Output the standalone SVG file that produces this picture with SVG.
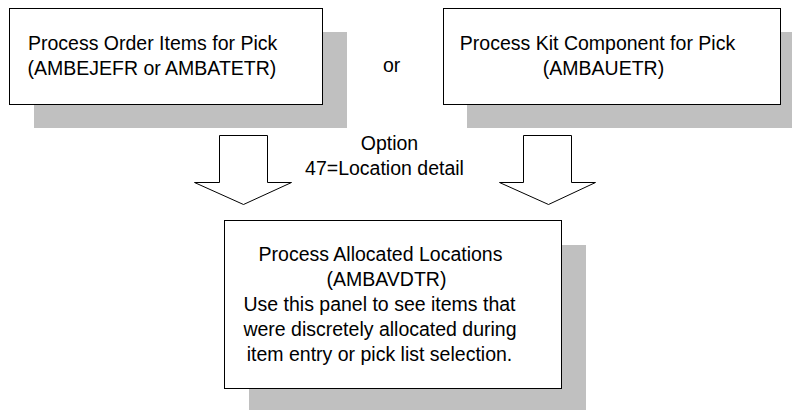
<svg xmlns="http://www.w3.org/2000/svg" width="792" height="410" viewBox="0 0 792 410">
<style>
.shadow{fill:#c0c0c0;stroke:none}
.box{fill:#ffffff;stroke:#000000;stroke-width:1}
.arrow{fill:#ffffff;stroke:#000000;stroke-width:1}
text{font-family:"Liberation Sans",Arial,sans-serif;font-size:19.5px;fill:#000000}
.c{text-anchor:middle}
</style>
<rect width="792" height="410" fill="#ffffff"/>
<g id="node-order-items">
<rect class="shadow" x="34" y="32" width="313" height="96"/>
<rect class="box" x="9.5" y="8.5" width="313" height="96"/>
<text x="28" y="50">Process Order Items for Pick</text>
<text x="27.5" y="74.5">(AMBEJEFR or AMBATETR)</text>
</g>
<g id="node-kit-component">
<rect class="shadow" x="467" y="32" width="337" height="96"/>
<rect class="box" x="443.5" y="8.5" width="337" height="96"/>
<text class="c" x="597.5" y="50">Process Kit Component for Pick</text>
<text class="c" x="603.5" y="74.5">(AMBAUETR)</text>
</g>
<g id="label-or">
<text x="383" y="72">or</text>
</g>
<g id="connectors">
<polygon class="arrow" points="219.5,135.5 267.5,135.5 267.5,182.5 291.5,182.5 243.5,204.5 194.5,182.5 219.5,182.5"/>
<polygon class="arrow" points="523.5,135.5 571.5,135.5 571.5,182.5 595.5,182.5 548.5,204.5 499.5,182.5 523.5,182.5"/>
<text class="c" x="389.5" y="150">Option</text>
<text class="c" x="384.5" y="175">47=Location detail</text>
</g>
<g id="node-allocated-locations">
<rect class="shadow" x="249" y="245" width="337" height="168"/>
<rect class="box" x="224.5" y="220.5" width="337" height="168"/>
<text class="c" x="380.5" y="261">Process Allocated Locations</text>
<text class="c" x="386.5" y="286">(AMBAVDTR)</text>
<text class="c" x="379.5" y="311">Use this panel to see items that</text>
<text class="c" x="380" y="336">were discretely allocated during</text>
<text class="c" x="379.5" y="361">item entry or pick list selection.</text>
</g>
</svg>
